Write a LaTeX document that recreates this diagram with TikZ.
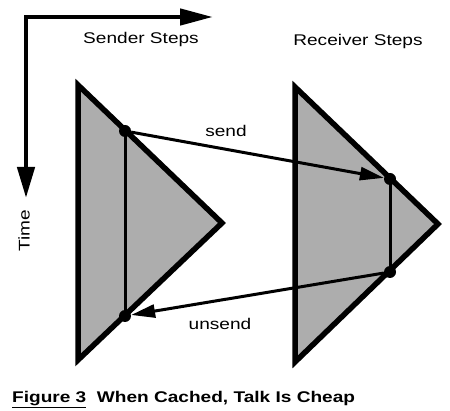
\documentclass[tikz,border=0pt]{standalone}
\usepackage{fontspec}
\setmainfont{Liberation Sans}
\usetikzlibrary{arrows.meta}
\newcommand\wtext[1]{\scalebox{1.23}[1]{#1}}
\begin{document}
\begin{tikzpicture}[x=1pt,y=-1pt,
  lbl/.style={font=\fontsize{15.5}{18}\selectfont, inner sep=0pt},
  tri/.style={draw=black, line width=5.5pt, fill=black!32},
  innerline/.style={line width=3pt},
  axis/.style={line width=4.5pt, {Triangle[length=31pt,width=17pt]}-{Triangle[length=33pt,width=16pt]}},
  msg/.style={line width=3pt, -{Triangle[length=24pt,width=13pt]}},
  dot/.style={circle, fill=black, inner sep=0pt, minimum size=12pt}]
\useasboundingbox (0,0) rectangle (450,411);
% axes
\coordinate (origin) at (26,17);
\coordinate (xend) at (213,17);
\coordinate (yend) at (26,198);
\draw[axis] (yend) -- (origin) -- (xend);
% triangles
\coordinate (sA) at (78,85);
\coordinate (sB) at (222,223);
\coordinate (sC) at (78,360);
\coordinate (rA) at (295,87);
\coordinate (rB) at (438,224);
\coordinate (rC) at (295,362);
\draw[tri] (sA) -- (sB) -- (sC) -- cycle;
\draw[tri] (rA) -- (rB) -- (rC) -- cycle;
% dots
\node[dot] (s1) at (125,131) {};
\node[dot] (s2) at (125,316) {};
\node[dot] (r1) at (390,179) {};
\node[dot] (r2) at (390,272) {};
\draw[innerline] (s1.center) -- (s2.center);
\draw[innerline] (r1.center) -- (r2.center);
% messages
\draw[msg] (s1) -- (r1);
\draw[msg] (r2) -- (s2);
% labels
\node[lbl, anchor=base] (sendlbl) at (226,137) {\wtext{send}};
\node[lbl, anchor=base] (unsendlbl) at (220,330) {\wtext{unsend}};
\node[lbl, anchor=base] (sender) at (141,44) {\wtext{Sender Steps}};
\node[lbl, anchor=base] (receiver) at (358,46) {\wtext{Receiver Steps}};
\node[lbl, anchor=base, rotate=90] (time) at (29.5,231) {\wtext{Time}};
\node[lbl, anchor=base west] (caption) at (12,403) {\wtext{\bfseries\underline{Figure 3}~ When Cached, Talk Is Cheap}};
\end{tikzpicture}
\end{document}
